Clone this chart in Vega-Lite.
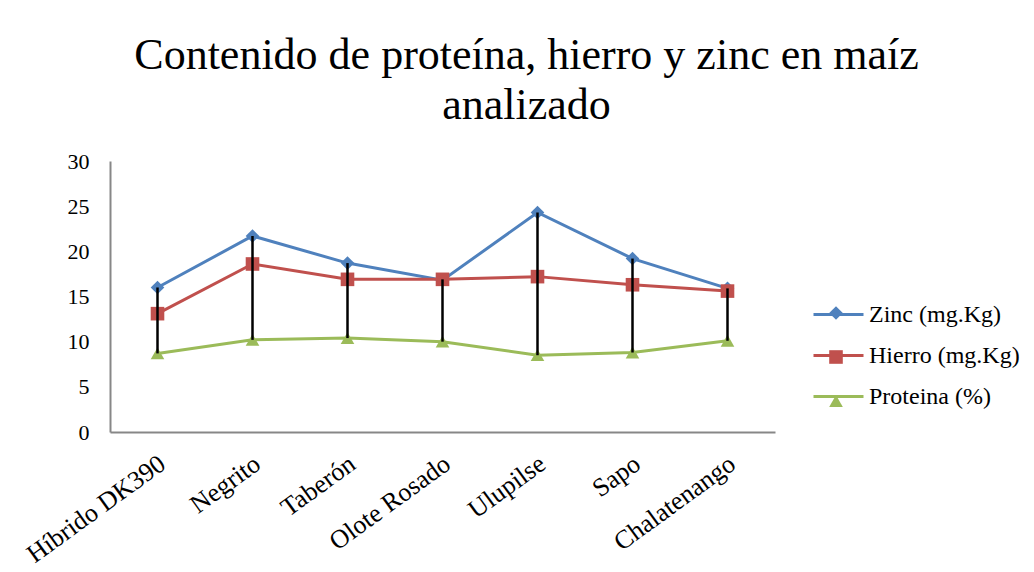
{
  "$schema": "https://vega.github.io/schema/vega-lite/v6.json",
  "width": 665,
  "height": 271,
  "autosize": "none",
  "padding": {"left": 110, "top": 161, "right": 259, "bottom": 140},
  "background": "white",
  "title": {
    "text": ["Contenido de proteína, hierro y zinc en maíz", "analizado"],
    "font": "Liberation Serif",
    "fontSize": 44,
    "fontWeight": "normal",
    "color": "black",
    "anchor": "middle",
    "frame": "group",
    "dx": 84,
    "lineHeight": 50,
    "offset": 22
  },
  "config": {
    "view": {"stroke": null},
    "font": "Liberation Serif",
    "axis": {"labelFont": "Liberation Serif"},
    "legend": {"labelFont": "Liberation Serif"}
  },
  "data": {
    "values": [
      {"variedad": "Híbrido DK390", "serie": "Zinc (mg.Kg)", "valor": 16.0},
      {"variedad": "Negrito", "serie": "Zinc (mg.Kg)", "valor": 21.7},
      {"variedad": "Taberón", "serie": "Zinc (mg.Kg)", "valor": 18.7},
      {"variedad": "Olote Rosado", "serie": "Zinc (mg.Kg)", "valor": 16.8},
      {"variedad": "Ulupilse", "serie": "Zinc (mg.Kg)", "valor": 24.3},
      {"variedad": "Sapo", "serie": "Zinc (mg.Kg)", "valor": 19.2},
      {"variedad": "Chalatenango", "serie": "Zinc (mg.Kg)", "valor": 15.9},
      {"variedad": "Híbrido DK390", "serie": "Hierro (mg.Kg)", "valor": 13.1},
      {"variedad": "Negrito", "serie": "Hierro (mg.Kg)", "valor": 18.6},
      {"variedad": "Taberón", "serie": "Hierro (mg.Kg)", "valor": 16.9},
      {"variedad": "Olote Rosado", "serie": "Hierro (mg.Kg)", "valor": 16.9},
      {"variedad": "Ulupilse", "serie": "Hierro (mg.Kg)", "valor": 17.2},
      {"variedad": "Sapo", "serie": "Hierro (mg.Kg)", "valor": 16.3},
      {"variedad": "Chalatenango", "serie": "Hierro (mg.Kg)", "valor": 15.6},
      {"variedad": "Híbrido DK390", "serie": "Proteina (%)", "valor": 8.7},
      {"variedad": "Negrito", "serie": "Proteina (%)", "valor": 10.2},
      {"variedad": "Taberón", "serie": "Proteina (%)", "valor": 10.4},
      {"variedad": "Olote Rosado", "serie": "Proteina (%)", "valor": 10.0},
      {"variedad": "Ulupilse", "serie": "Proteina (%)", "valor": 8.5},
      {"variedad": "Sapo", "serie": "Proteina (%)", "valor": 8.8},
      {"variedad": "Chalatenango", "serie": "Proteina (%)", "valor": 10.1}
    ]
  },
  "encoding": {
    "x": {
      "field": "variedad",
      "type": "nominal",
      "sort": ["Híbrido DK390", "Negrito", "Taberón", "Olote Rosado", "Ulupilse", "Sapo", "Chalatenango"],
      "scale": {"type": "point", "padding": 0.5},
      "axis": {
        "title": null,
        "domainColor": "#878787",
        "domainWidth": 2,
        "ticks": false,
        "labelAngle": -36,
        "labelAlign": "right",
        "labelBaseline": "top",
        "labelFont": "Liberation Serif",
        "labelFontSize": 26,
        "labelColor": "black",
        "labelPadding": 18,
        "labelOffset": -3
      }
    }
  },
  "layer": [
    {
      "mark": {"type": "line", "strokeWidth": 3},
      "encoding": {
        "y": {
          "field": "valor",
          "type": "quantitative",
          "scale": {"domain": [0, 30]},
          "axis": {
            "title": null,
            "values": [0, 5, 10, 15, 20, 25, 30],
            "grid": false,
            "ticks": false,
            "domainColor": "#878787",
            "domainWidth": 2,
            "labelFont": "Liberation Serif",
            "labelFontSize": 22,
            "labelColor": "black",
            "labelPadding": 21
          }
        },
        "stroke": {
          "field": "serie",
          "type": "nominal",
          "scale": {
            "domain": ["Zinc (mg.Kg)", "Hierro (mg.Kg)", "Proteina (%)"],
            "range": ["#4F81BD", "#C0504D", "#9BBB59"]
          },
          "legend": {
            "title": null,
            "orient": "none",
            "legendX": 702,
            "legendY": 127,
            "padding": 0,
            "symbolType": "stroke",
            "symbolSize": 2500,
            "symbolStrokeWidth": 3,
            "labelFont": "Liberation Serif",
            "labelFontSize": 24,
            "labelColor": "black",
            "labelOffset": 4,
            "rowPadding": 2
          }
        }
      }
    },
    {
      "mark": {"type": "point", "filled": true, "opacity": 1, "size": 185, "strokeWidth": 0},
      "encoding": {
        "y": {"field": "valor", "type": "quantitative"},
        "fill": {
          "field": "serie",
          "type": "nominal",
          "sort": ["Zinc (mg.Kg)", "Hierro (mg.Kg)", "Proteina (%)"],
          "scale": {"range": ["#4F81BD", "#C0504D", "#9BBB59"]},
          "legend": {
            "title": null,
            "orient": "none",
            "legendX": 714,
            "legendY": 140,
            "padding": 0,
            "symbolSize": 185,
            "symbolOpacity": 1,
            "symbolStrokeWidth": 0,
            "symbolStrokeColor": "transparent",
            "labelFont": "Liberation Serif",
            "labelFontSize": 24,
            "labelExpr": "' '",
            "rowPadding": 20,
            "encode": {
              "symbols": {
                "update": {
                  "shape": {"scale": "shape", "field": "value"},
                  "fill": {"scale": "fill", "field": "value"},
                  "strokeWidth": {"value": 0}
                }
              }
            }
          }
        },
        "shape": {
          "field": "serie",
          "type": "nominal",
          "sort": ["Zinc (mg.Kg)", "Hierro (mg.Kg)", "Proteina (%)"],
          "scale": {"range": ["diamond", "square", "triangle-up"]},
          "legend": null
        }
      }
    },
    {
      "mark": {"type": "rule", "color": "black", "strokeWidth": 2.5},
      "encoding": {
        "y": {"aggregate": "max", "field": "valor", "type": "quantitative"},
        "y2": {"aggregate": "min", "field": "valor"}
      }
    }
  ]
}
